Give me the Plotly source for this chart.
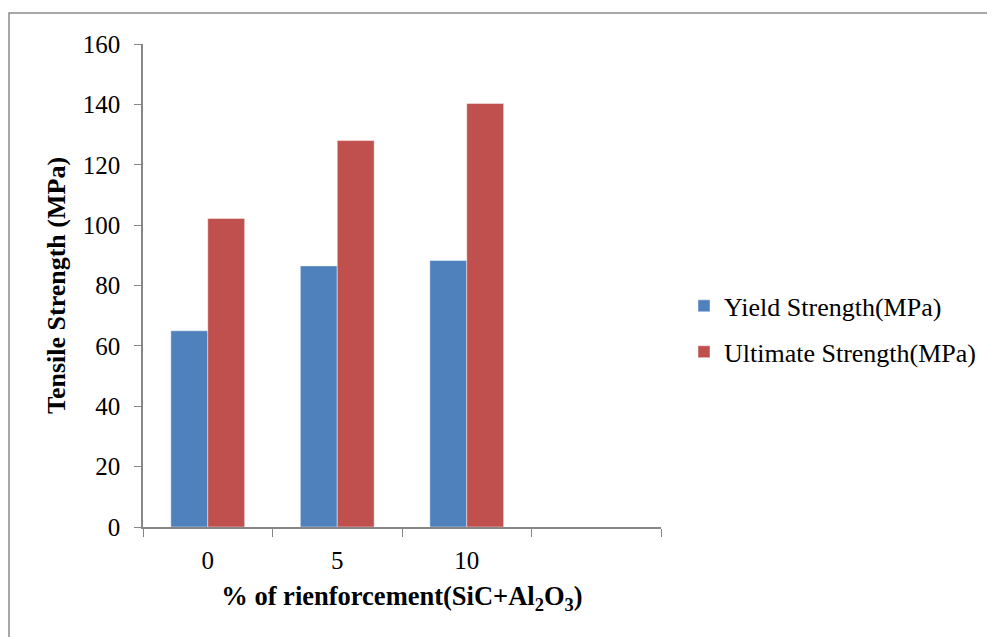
import plotly.graph_objects as go

categories = ["0", "5", "10", " "]
yield_strength = [65, 86.5, 88.3]
ultimate_strength = [102.2, 128, 140.3]
y_ticks = [0, 20, 40, 60, 80, 100, 120, 140, 160]

FONT = "Liberation Serif, Times New Roman, serif"
AX = "#868686"
W, H = 987, 629
L, T = 135, 36
PW, PH = 518, 483

fig = go.Figure()
fig.add_trace(go.Bar(x=categories[:3], y=yield_strength, name="Yield Strength(MPa)",
                     legendgroup="a",
                     marker=dict(color="#4F81BD", line=dict(color="rgba(255,255,255,0.45)", width=1))))
fig.add_trace(go.Bar(x=categories[:3], y=ultimate_strength, name="Ultimate Strength(MPa)",
                     legendgroup="b",
                     marker=dict(color="#C0504D", line=dict(color="rgba(255,255,255,0.45)", width=1))))

fig.update_layout(
    width=W, height=H,
    margin=dict(l=L, r=W - L - PW, t=T, b=H - T - PH),
    paper_bgcolor="white", plot_bgcolor="white",
    barmode="group", bargap=0.43, bargroupgap=0,
    font=dict(family=FONT, size=25, color="black"),
    showlegend=True,
    legend=dict(x=(676 - L) / PW, y=0.41, xanchor="left", yanchor="middle",
                font=dict(family=FONT, size=26), bgcolor="rgba(0,0,0,0)",
                itemwidth=30, tracegroupgap=9, traceorder="grouped"),
    xaxis=dict(type="category", categoryorder="array", categoryarray=categories,
               range=[-0.5, 3.5], tickson="boundaries", ticks="outside", ticklen=8,
               tickcolor=AX, linecolor=AX, linewidth=1.5, showline=True, showgrid=False,
               tickfont=dict(family=FONT, size=25), ticklabelstandoff=10,
               title=dict(text="<b>% of rienforcement(SiC+Al<sub>2</sub>O<sub>3</sub>)</b>",
                          font=dict(family=FONT, size=26.5), standoff=14)),
    yaxis=dict(range=[0, 160], tickvals=y_ticks, ticks="outside", ticklen=7,
               tickcolor=AX, linecolor=AX, linewidth=1.5, showline=True, showgrid=False,
               zeroline=False, tickfont=dict(family=FONT, size=25), ticklabelstandoff=9,
               title=dict(text="<b>Tensile Strength (MPa)</b>",
                          font=dict(family=FONT, size=26), standoff=10)),
)

fig.add_shape(type="rect", xref="paper", yref="paper",
              x0=(1 - L) / PW, x1=(W + 20 - L) / PW,
              y0=(T + PH - (H + 20)) / PH, y1=(T + PH - 5) / PH,
              line=dict(color="#8c8c8c", width=1.5), fillcolor="rgba(0,0,0,0)", layer="below")

fig.write_html("out.html")
